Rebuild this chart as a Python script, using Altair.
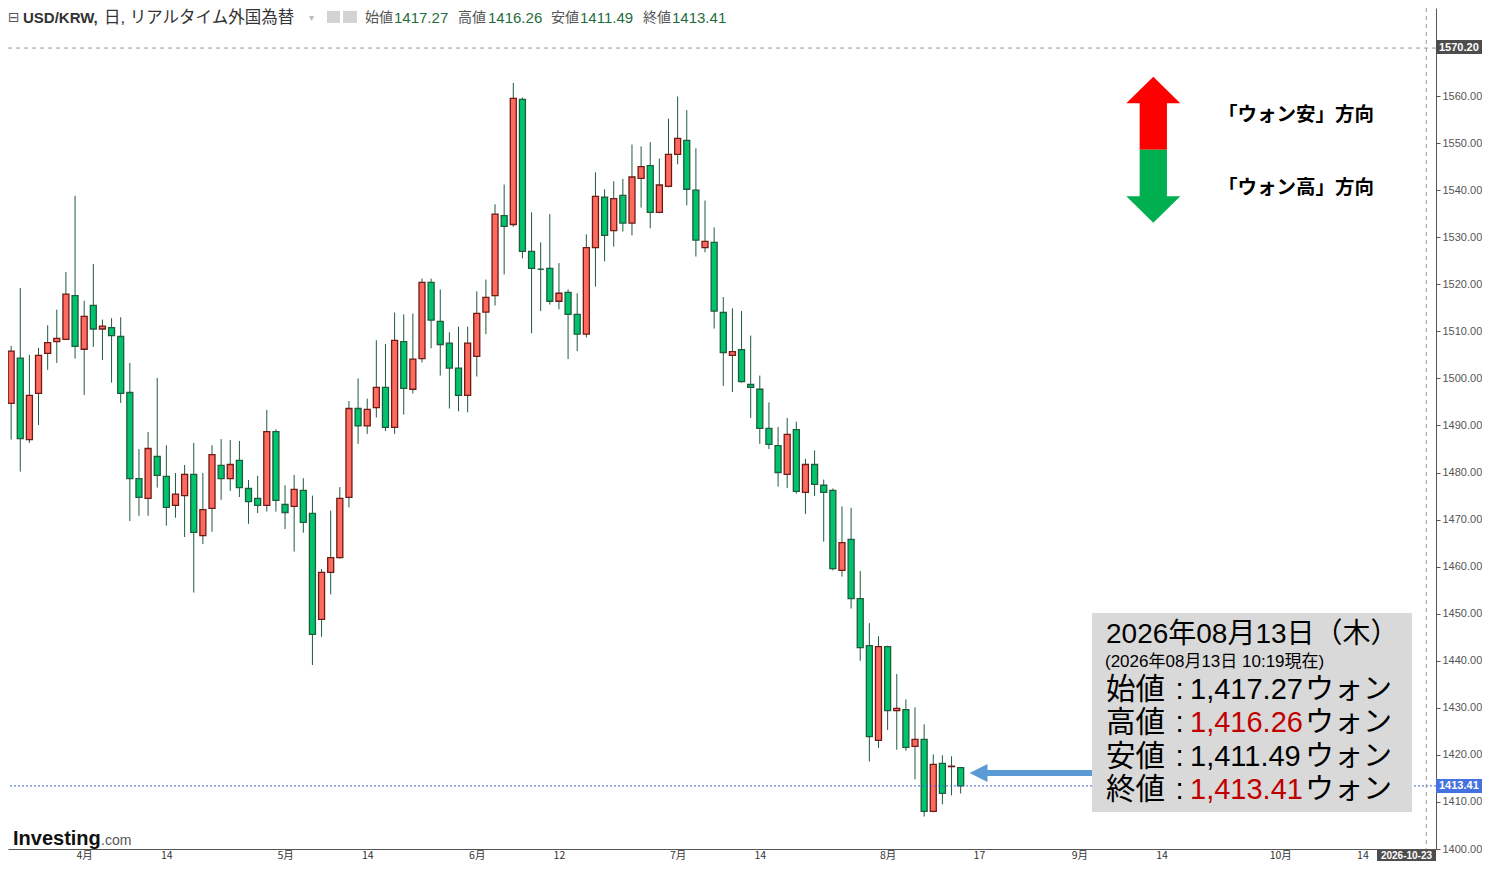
import json
import altair as alt
import pandas as pd

# ---- data (USD/KRW daily candles, 2026-03-19 .. 2026-08-13) ----
opens = [1508.4, 1494.7, 1504.3, 1487.0, 1496.8, 1505.3, 1507.8, 1508.3, 1517.6, 1506.2,
         1515.5, 1510.5, 1510.8, 1508.9, 1497.0, 1478.7, 1474.5, 1483.4, 1479.2, 1473.0,
         1475.1, 1479.6, 1466.6, 1472.4, 1481.5, 1478.7, 1482.6, 1476.6, 1474.5, 1473.0,
         1488.7, 1473.2, 1472.8, 1476.2, 1471.3, 1448.8, 1458.8, 1461.9, 1474.7, 1493.6,
         1489.9, 1493.8, 1498.1, 1489.6, 1507.8, 1497.7, 1504.2, 1520.4, 1512.1, 1507.5,
         1502.2, 1496.4, 1504.7, 1514.1, 1517.6, 1534.6, 1532.7, 1559.3, 1527.0, 1523.2,
         1523.4, 1516.4, 1518.3, 1513.6, 1509.4, 1527.8, 1538.5, 1531.4, 1538.9, 1533.0,
         1542.5, 1545.2, 1535.3, 1540.8, 1547.6, 1550.6, 1540.0, 1527.8, 1528.9, 1514.0,
         1504.9, 1506.1, 1498.7, 1497.7, 1489.4, 1485.7, 1479.6, 1489.1, 1475.8, 1481.7,
         1477.3, 1476.2, 1459.2, 1465.8, 1453.2, 1443.2, 1423.1, 1443.0, 1429.4, 1429.6,
         1421.8, 1423.3, 1408.0, 1418.2, 1417.5, 1417.3]
highs = [1510.1, 1506.9, 1519.2, 1505.0, 1506.5, 1511.3, 1514.6, 1522.6, 1538.8, 1516.5,
         1524.3, 1512.5, 1512.8, 1513.0, 1503.3, 1485.0, 1488.6, 1500.1, 1485.8, 1479.9,
         1481.6, 1486.3, 1479.9, 1485.8, 1487.1, 1486.9, 1486.7, 1478.4, 1479.3, 1493.3,
         1489.2, 1477.3, 1479.5, 1478.8, 1475.1, 1459.5, 1471.9, 1476.9, 1495.2, 1500.0,
         1495.7, 1508.1, 1507.3, 1514.0, 1513.6, 1513.8, 1521.2, 1521.2, 1518.9, 1509.8,
         1511.0, 1511.0, 1518.5, 1521.0, 1537.0, 1541.2, 1562.8, 1559.7, 1535.3, 1528.9,
         1534.9, 1524.5, 1518.9, 1518.1, 1530.6, 1543.8, 1540.2, 1541.9, 1542.4, 1549.7,
         1549.3, 1550.2, 1546.7, 1555.2, 1559.9, 1557.0, 1548.9, 1537.8, 1532.1, 1517.3,
         1514.9, 1514.3, 1509.1, 1500.6, 1494.9, 1489.7, 1491.6, 1490.8, 1482.9, 1484.7,
         1478.5, 1476.6, 1472.8, 1472.5, 1459.1, 1448.0, 1445.2, 1443.2, 1437.2, 1431.8,
         1430.1, 1426.5, 1420.1, 1419.9, 1419.7, 1417.4]
lows = [1489.0, 1487.0, 1480.2, 1486.3, 1490.1, 1501.8, 1503.3, 1508.2, 1504.2, 1496.5,
        1506.7, 1503.9, 1499.1, 1494.8, 1469.7, 1470.8, 1470.8, 1476.8, 1468.7, 1470.4,
        1466.3, 1454.5, 1464.8, 1467.4, 1474.2, 1476.1, 1474.8, 1469.1, 1471.4, 1471.7,
        1471.7, 1468.0, 1463.2, 1467.2, 1439.1, 1445.1, 1454.1, 1461.7, 1472.6, 1486.1,
        1488.2, 1491.7, 1488.8, 1488.2, 1492.3, 1496.8, 1503.4, 1506.4, 1500.6, 1493.6,
        1493.0, 1492.8, 1500.4, 1509.4, 1515.5, 1522.1, 1532.2, 1525.5, 1509.6, 1514.3,
        1515.7, 1514.7, 1504.1, 1505.8, 1508.7, 1519.5, 1524.9, 1528.0, 1531.2, 1530.4,
        1536.3, 1531.9, 1535.1, 1540.6, 1545.5, 1536.8, 1525.9, 1526.8, 1510.6, 1498.4,
        1497.1, 1499.1, 1491.6, 1486.1, 1485.0, 1477.0, 1476.7, 1475.5, 1471.2, 1475.0,
        1465.3, 1459.2, 1457.9, 1451.1, 1440.0, 1418.6, 1421.5, 1425.3, 1421.1, 1420.9,
        1414.8, 1406.9, 1407.8, 1409.5, 1411.4, 1411.8]
closes = [1489.9, 1505.8, 1487.2, 1496.4, 1504.9, 1507.6, 1508.5, 1517.9, 1506.8, 1513.2,
          1510.5, 1511.1, 1509.1, 1496.8, 1478.7, 1474.7, 1485.1, 1479.4, 1472.6, 1475.4,
          1479.6, 1467.3, 1472.1, 1483.8, 1478.7, 1481.7, 1476.8, 1473.8, 1473.0, 1488.7,
          1474.1, 1471.5, 1476.4, 1469.4, 1445.6, 1458.8, 1461.9, 1474.5, 1493.6, 1489.9,
          1493.4, 1498.1, 1489.6, 1508.1, 1497.9, 1504.1, 1520.4, 1512.4, 1507.2, 1502.2,
          1496.4, 1507.5, 1513.8, 1517.2, 1534.9, 1532.3, 1559.5, 1527.0, 1523.4, 1523.2,
          1516.4, 1518.1, 1513.6, 1509.4, 1527.8, 1538.7, 1530.4, 1538.2, 1533.0, 1542.8,
          1545.0, 1535.3, 1541.1, 1547.6, 1551.0, 1540.2, 1529.4, 1529.1, 1514.3, 1505.5,
          1505.7, 1499.3, 1498.1, 1489.4, 1486.0, 1480.0, 1488.1, 1476.0, 1481.7, 1477.5,
          1475.8, 1459.6, 1465.1, 1453.2, 1442.8, 1423.9, 1443.0, 1429.4, 1429.9, 1421.6,
          1423.3, 1408.0, 1418.0, 1411.8, 1417.6, 1413.41]

# x-axis: trading-day index of each labelled date, and its label
tick_idx = [9, 18, 31, 40, 52, 61, 74, 83, 97, 107, 118, 127, 140, 149]
tick_lbl = ["4月", "14", "5月", "14", "6月", "12", "7月", "14", "8月", "17", "9月", "14", "10月", "14"]
# 1570 is hidden behind the 1570.20 marker label in the reference
y_ticks = [1400, 1410, 1420, 1430, 1440, 1450, 1460, 1470, 1480, 1490,
           1500, 1510, 1520, 1530, 1540, 1550, 1560]

last_price = 1413.41
marker_price = 1570.20
cursor_idx = 156  # 2026-10-23

header_labels = ["始値", "高値", "安値", "終値"]
header_values = ["1417.27", "1416.26", "1411.49", "1413.41"]
box_values = ["1,417.27", "1,416.26", "1,411.49", "1,413.41"]
box_value_colors = ["#000000", "#c00000", "#000000", "#c00000"]

# ---------------------------------------------------------------------------------------
n = len(opens)
df = pd.DataFrame({"i": list(range(n)), "open": opens, "high": highs,
                   "low": lows, "close": closes})
df["dir"] = ["up" if c > o else "down" for o, c in zip(opens, closes)]

JP = "Noto Sans CJK JP"
JPL = "Liberation Sans, Noto Sans CJK JP"   # latin metrics, CJK glyphs by fallback
LAT = "Liberation Sans"

W, H = 1428, 841
xs = alt.Scale(domain=[0.656, 157.063], nice=False, zero=False, padding=0)
ys = alt.Scale(domain=[1400.0, 1578.71], nice=False, zero=False, padding=0)

label_expr = (json.dumps(tick_lbl, ensure_ascii=False)
              + "[indexof(" + json.dumps(tick_idx) + ", datum.value)]")

x_axis = alt.Axis(values=tick_idx, labelExpr=label_expr, grid=False, ticks=False,
                  domainColor="#555555", labelColor="#333333", labelFont=JP,
                  labelFontSize=10.5, labelPadding=1, labelFlush=False,
                  labelOverlap=False, title=None)
y_axis = alt.Axis(orient="right", values=y_ticks, format=".2f", grid=False,
                  tickSize=4, tickColor="#555555", domainColor="#555555",
                  labelColor="#555555", labelFont=LAT, labelFontSize=11,
                  labelPadding=2, labelFlush=False, labelOverlap=False, title=None)

one = pd.DataFrame({"a": [0]})

wicks = alt.Chart(df).mark_rule(color="#1f5c3d", strokeWidth=1).encode(
    x=alt.X("i:Q", scale=xs, axis=x_axis),
    y=alt.Y("low:Q", scale=ys, axis=y_axis),
    y2="high:Q",
)
bodies = alt.Chart(df).mark_bar(width=6, strokeWidth=1.3).encode(
    x=alt.X("i:Q", scale=xs, title=None),
    y=alt.Y("open:Q", scale=ys, title=None),
    y2="close:Q",
    fill=alt.Fill("dir:N", scale=alt.Scale(domain=["up", "down"], range=["#ff6a5f", "#00c46d"]), legend=None),
    stroke=alt.Stroke("dir:N", scale=alt.Scale(domain=["up", "down"], range=["#6e1a17", "#1f5c3d"]), legend=None),
)

last_line = alt.Chart(pd.DataFrame({"p": [last_price]})).mark_rule(
    color="#3d5fcf", strokeDash=[2, 2], strokeWidth=1).encode(
    y=alt.Y("p:Q", scale=ys, title=None))
marker_line = alt.Chart(pd.DataFrame({"p": [marker_price]})).mark_rule(
    color="#9a9a9a", strokeDash=[4, 4], strokeWidth=1).encode(
    y=alt.Y("p:Q", scale=ys, title=None))
cursor_line = alt.Chart(pd.DataFrame({"c": [cursor_idx]})).mark_rule(
    color="#9a9a9a", strokeDash=[4, 4], strokeWidth=1).encode(
    x=alt.X("c:Q", scale=xs, title=None))


def txt(s, x, y, size, color="#000000", font=JP, weight="normal", align="left",
        baseline="middle"):
    return alt.Chart(pd.DataFrame({"t": [s]})).mark_text(
        align=align, baseline=baseline, fontSize=size, font=font,
        fontWeight=weight, color=color).encode(
        x=alt.value(x), y=alt.value(y), text="t:N")


def box(x1, x2, y1, y2, color):
    return alt.Chart(one).mark_rect(color=color).encode(
        x=alt.value(x1), x2=alt.value(x2), y=alt.value(y1), y2=alt.value(y2))


def symbol(path, size, x, y, color):
    return alt.Chart(one).mark_point(shape=path, size=size, filled=True, color=color,
                                     opacity=1, strokeWidth=0).encode(
        x=alt.value(x), y=alt.value(y))


layers = [wicks, bodies, last_line, marker_line, cursor_line]

# price labels on the right axis and date label under the cursor
layers += [
    box(W, W + 46, 32, 46, "#4d4d4d"),
    txt("1570.20", W + 3, 39.5, 11, "#ffffff", LAT, "bold"),
    box(W, W + 46, 771, 785, "#4472e0"),
    txt("1413.41", W + 3, 778, 11, "#ffffff", LAT, "bold"),
    box(1369, W, 842, 853, "#4d4d4d"),
    txt("2026-10-23", 1398.5, 847.5, 10, "#ffffff", LAT, "bold", align="center"),
]

# header line
HY = 10
layers += [
    txt("⊟", 0, HY, 14, "#555555", "DejaVu Sans"),
    txt("USD/KRW,", 15, HY, 15, "#333333", LAT, "bold"),
    txt("日, リアルタイム外国為替", 96, HY, 16.5, "#333333", JPL),
    txt("▾", 301, HY, 10, "#bbbbbb", "DejaVu Sans"),
    box(319, 332, 3, 15, "#d3d3d3"),
    box(335, 349, 3, 15, "#d3d3d3"),
]
hx_lbl = [357, 450, 543, 635]
hx_val = [386, 480, 572, 664]
for lab, val, xl, xv in zip(header_labels, header_values, hx_lbl, hx_val):
    layers.append(txt(lab, xl, HY, 14, "#555555", JPL))
    layers.append(txt(val, xv, HY, 15, "#1f6e3c", LAT))

# legend arrows (won weak / won strong)
red_path = "M0,-1L0.37,-0.636L0.187,-0.636L0.187,0L-0.187,0L-0.187,-0.636L-0.37,-0.636Z"
green_path = "M0,1L0.37,0.636L0.187,0.636L0.187,0L-0.187,0L-0.187,0.636L-0.37,0.636Z"
layers += [
    symbol(red_path, 21316, 1145.3, 141.7, "#ff0000"),
    symbol(green_path, 21316, 1145.3, 141.7, "#00b050"),
    txt("「ウォン安」方向", 1210, 107, 19.5, "#000000", JP, "bold"),
    txt("「ウォン高」方向", 1210, 180, 19.5, "#000000", JP, "bold"),
]

# info box
layers += [
    box(1084, 1404, 605, 804, "#d9d9d9"),
    txt("2026年08月13日（木）", 1098, 627, 28, "#000000", JPL),
    txt("(2026年08月13日 10:19現在)", 1097, 654, 17, "#000000", JPL),
]
row_y = [682, 715.3, 748.7, 782]
for lab, val, col, yy in zip(header_labels, box_values, box_value_colors, row_y):
    layers.append(txt(lab, 1098, yy, 29.5, "#000000", JPL))
    layers.append(txt(":", 1171.5, yy, 29.5, "#000000", LAT, align="center"))
    layers.append(txt(val, 1182, yy, 29, col, LAT))
    layers.append(txt("ウォン", 1297, yy, 29, "#000000", JPL))

# pointer arrow to the latest candle
layers += [
    alt.Chart(one).mark_rule(color="#5b9bd5", strokeWidth=6).encode(
        x=alt.value(977), x2=alt.value(1084), y=alt.value(765)),
    symbol("M-1,0L1,-1L1,1Z", 324, 970.5, 765, "#5b9bd5"),
]

# logo
layers += [
    txt("Investing", 5, 837, 20, "#111111", LAT, "bold", baseline="alphabetic"),
    txt(".com", 93, 837, 14, "#555555", LAT, baseline="alphabetic"),
]

chart = alt.layer(*layers).properties(
    width=W, height=H,
    autosize=alt.AutoSizeParams(type="none"),
    padding={"left": 0, "top": 0, "right": 46, "bottom": 12},
    background="#ffffff",
).configure_view(stroke=None)

chart.save("out.html", embed_options={"renderer": "svg", "actions": False})
